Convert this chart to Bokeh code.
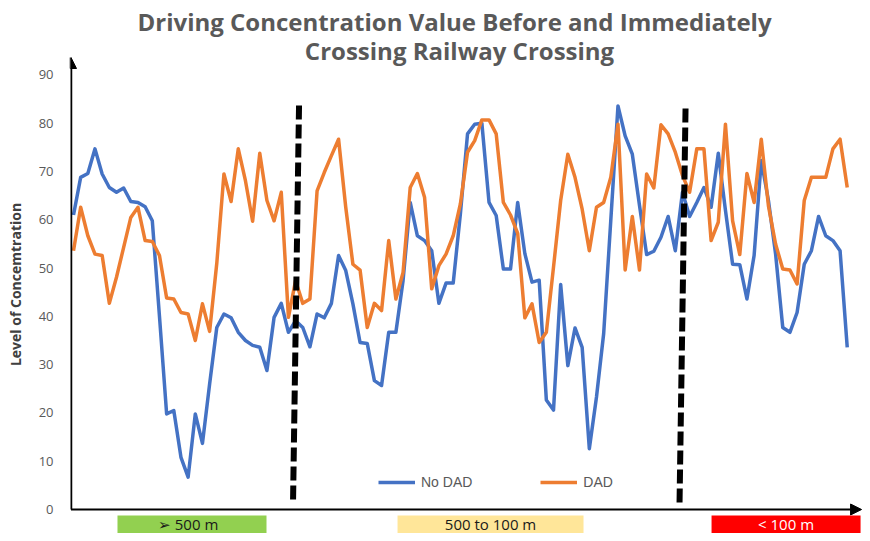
from bokeh.plotting import figure
from bokeh.models import (Range1d, FixedTicker, Arrow, NormalHead, Label, Title,
                          BoxAnnotation, Legend, LegendItem)
from bokeh.embed import file_html
from bokeh.resources import INLINE

# ---------------- data ----------------
sample = list(range(1, 110))

no_dad = [61, 68.8, 69.6, 74.7, 69.5, 66.7, 65.7, 66.6, 63.8, 63.6,
          62.7, 59.8, 40, 19.8, 20.5, 10.8, 6.7, 19.8, 13.7, 26,
          37.7, 40.5, 39.7, 36.7, 35, 34, 33.6, 28.8, 39.8, 42.7,
          36.7, 39.1, 37.7, 33.7, 40.5, 39.7, 42.7, 52.6, 49.5, 42.6,
          34.6, 34.4, 26.7, 25.7, 36.7, 36.7, 47.4, 63.6, 56.7, 55.7,
          53.6, 42.7, 46.9, 46.9, 61.2, 77.8, 79.8, 80, 63.6, 60.9,
          49.8, 49.8, 63.6, 53, 47.1, 47.5, 22.7, 20.6, 46.6, 29.8,
          37.6, 33.6, 12.6, 23.3, 36.4, 60, 83.6, 77.4, 73.6, 63,
          52.8, 53.5, 56.4, 60.7, 53.6, 65.7, 60.7, 63.6, 66.7, 62.6,
          73.8, 62, 50.8, 50.7, 43.6, 52.6, 72.3, 64, 52.9, 37.7,
          36.7, 40.8, 50.8, 53.6, 60.7, 56.7, 55.7, 53.6, 33.6]

dad = [53.6, 62.6, 56.7, 52.9, 52.6, 42.7, 48.1, 54.3, 60.5, 62.6,
       55.7, 55.5, 52.6, 43.8, 43.6, 40.8, 40.5, 35, 42.6, 36.9,
       51, 69.5, 63.8, 74.7, 68.1, 59.7, 73.8, 64, 59.8, 65.7,
       39.8, 47.4, 42.7, 43.6, 66, 69.8, 73.3, 76.7, 62.6, 50.8,
       49.6, 37.7, 42.7, 41.2, 55.7, 43.6, 49.1, 66.7, 69.6, 64.7,
       45.7, 50.5, 52.9, 56.7, 63.3, 74, 76.4, 80.7, 80.7, 77.8,
       63.6, 61, 57.2, 39.7, 42.6, 34.6, 36.7, 50.2, 64, 73.6,
       68.8, 62.2, 53.6, 62.6, 63.6, 68.8, 79.8, 49.6, 60.7, 49.6,
       69.5, 66.6, 79.7, 77.8, 74, 69.2, 65.7, 74.7, 74.7, 55.7,
       59.5, 79.8, 59.8, 52.8, 69.6, 63.6, 76.7, 62.9, 55, 49.8,
       49.6, 46.7, 64, 68.8, 68.8, 68.8, 74.7, 76.7, 66.7]

y_ticks = list(range(0, 100, 10))
series_names = ["No DAD", "DAD"]
series_colors = ["#4472C4", "#ED7D31"]

zone_labels = ["\u27a2   500 m", "500 to 100 m", "< 100 m"]
zone_fill = ["#92D050", "#FFE699", "#FF0000"]
zone_text = ["#1a1a1a", "#1a1a1a", "#FFFFFF"]
zone_left = [7.14, 46.23, 90.06]
zone_right = [27.94, 72.19, 110.86]

break_top_x = [32.48, 86.43]
break_top_y = [83.68, 83.06]
break_bot_x = [31.64, 85.59]
break_bot_y = [1.24, 1.24]

title_lines = ["Driving Concentration Value Before and Immediately",
               "Crossing Railway Crossing"]
y_title = "Level of Concemtration"

# ---------------- figure ----------------
p = figure(width=862, height=533, output_backend="svg", toolbar_location=None,
           x_range=Range1d(0.581, 111.13), y_range=Range1d(-4.971, 98.18),
           min_border_left=70, min_border_right=0, min_border_top=35,
           min_border_bottom=0)
p.title = Title(text=title_lines[0], align="left", offset=67, standoff=-4,
                text_font="Open Sans", text_font_style="bold",
                text_font_size="24px", text_color="#595959")
p.xaxis.visible = False
p.xgrid.visible = False
p.ygrid.visible = False
p.outline_line_color = None
p.background_fill_color = "white"
p.border_fill_color = "white"

ya = p.yaxis[0]
ya.ticker = FixedTicker(ticks=y_ticks)
ya.axis_line_color = None
ya.major_tick_line_color = None
ya.minor_tick_line_color = None
ya.major_tick_out = 0
ya.major_tick_in = 0
ya.major_label_standoff = 17
ya.major_label_text_font = "Open Sans"
ya.major_label_text_font_size = "13px"
ya.major_label_text_color = "#595959"
ya.axis_label = y_title
ya.axis_label_standoff = 11
ya.axis_label_text_font = "Open Sans"
ya.axis_label_text_font_style = "bold"
ya.axis_label_text_font_size = "14px"
ya.axis_label_text_color = "#404040"

# data lines
r1 = p.line(sample, no_dad, line_color=series_colors[0], line_width=3.5,
            line_join="round")
r2 = p.line(sample, dad, line_color=series_colors[1], line_width=3.5,
            line_join="round")

# zone break dashed lines
p.segment(x0=break_top_x, y0=break_top_y, x1=break_bot_x, y1=break_bot_y,
          line_color="black", line_width=6, line_dash="14 5")

# axes lines with arrows
p.add_layout(Arrow(end=NormalHead(size=11, fill_color="black", line_color="black"),
                   x_start=0.651, y_start=0, x_end=0.651, y_end=93.62,
                   line_width=2.5, line_color="black"))
p.add_layout(Arrow(end=NormalHead(size=11, fill_color="black", line_color="black"),
                   x_start=0.651, y_start=0, x_end=111.0, y_end=0,
                   line_width=2, line_color="black"))

# second title line
p.add_layout(Label(x=54.88, y=95.07, text=title_lines[1], text_align="center",
                   text_baseline="middle", text_font="Open Sans",
                   text_font_style="bold", text_font_size="24px",
                   text_color="#595959"))

# zone boxes
for l, r, fc, tc, lab in zip(zone_left, zone_right, zone_fill, zone_text, zone_labels):
    p.add_layout(BoxAnnotation(left=l, right=r, top=-1.25, bottom=-5.2,
                               fill_color=fc, fill_alpha=1, line_color=None))
    p.add_layout(Label(x=(l + r) / 2, y=-2.95, text=lab, text_align="center",
                       text_baseline="middle", text_font="Open Sans",
                       text_font_size="15px", text_color=tc))

legend = Legend(items=[LegendItem(label=series_names[0], renderers=[r1]),
                       LegendItem(label=series_names[1], renderers=[r2])],
                location=(308, 41), orientation="horizontal",
                glyph_width=37, glyph_height=20, label_standoff=6, spacing=68,
                padding=0, margin=0, border_line_color=None,
                background_fill_alpha=0, label_text_font="Liberation Sans",
                label_text_font_size="14px", label_text_color="#595959")
p.add_layout(legend)

open("out.html", "w").write(file_html(p, INLINE))
